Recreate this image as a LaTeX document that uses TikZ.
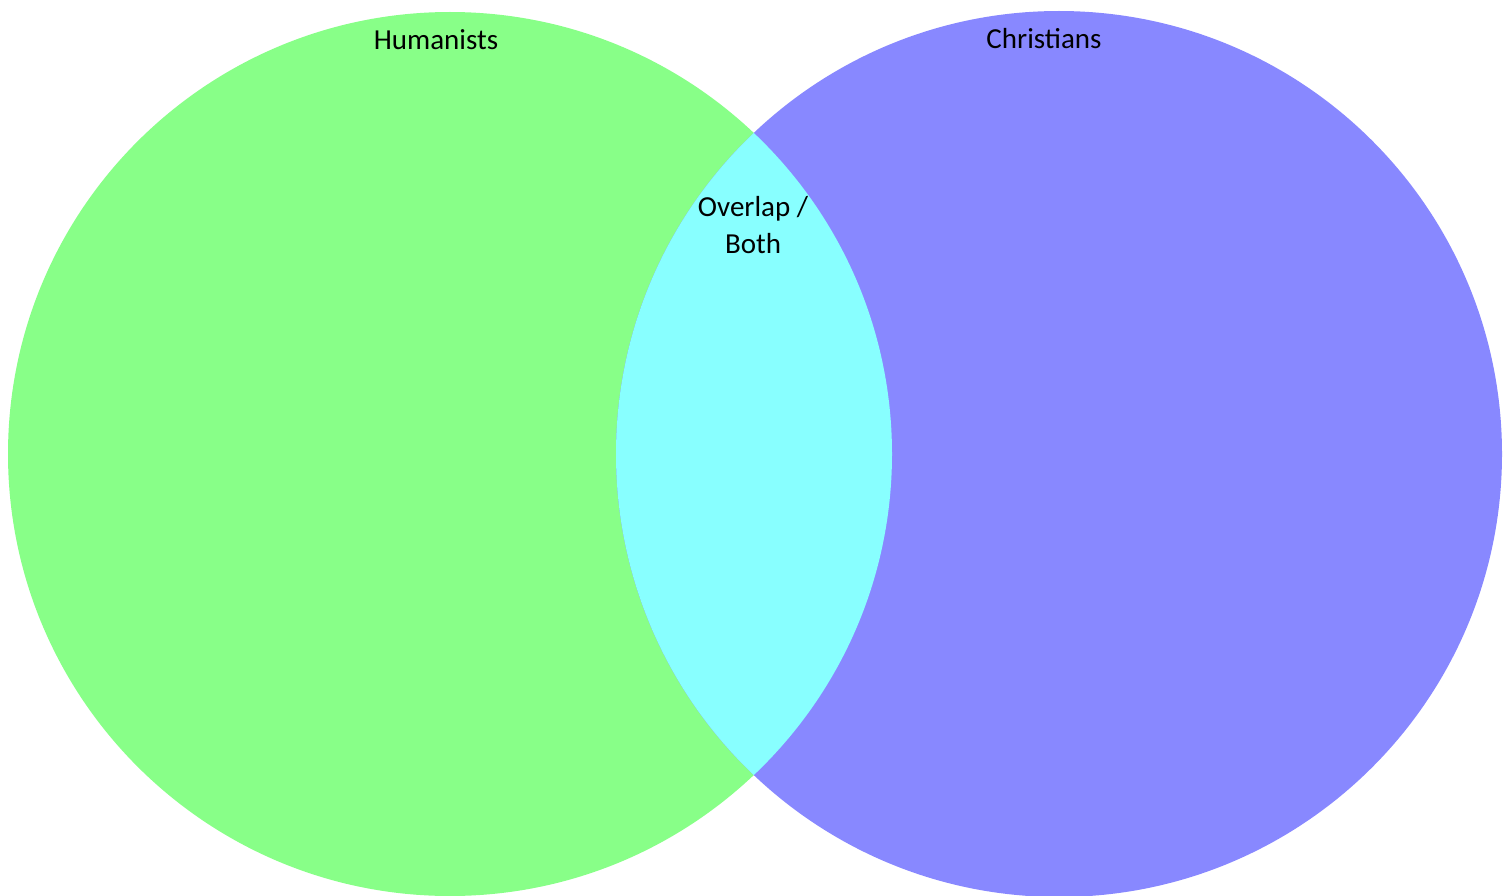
\documentclass[tikz,border=0pt]{standalone}
\usepackage{fontspec}
\setmainfont{Carlito}
\definecolor{hgreen}{HTML}{88FF88}
\definecolor{cblue}{HTML}{8888FF}
\definecolor{ocyan}{HTML}{88FFFF}
\begin{document}
\begin{tikzpicture}[x=1pt,y=-1pt,
  lbl/.style={font=\fontsize{29}{36}\selectfont, text=black, inner sep=0pt, anchor=base}]
\useasboundingbox (0,0) rectangle (1512,896);
\fill[white] (0,0) rectangle (1512,896);
\fill[hgreen] (450,454) circle[radius=442];
\fill[cblue] (1059,454) circle[radius=443];
\begin{scope}
  \clip (450,454) circle[radius=442];
  \fill[ocyan] (1059,454) circle[radius=443];
\end{scope}
\node[lbl] (hum) at (436,50) {Humanists};
\node[lbl] (chr) at (1044,49) {Christians};
\node[lbl] (ovl) at (753,217) {Overlap /};
\node[lbl] (both) at (753,253) {Both};
\end{tikzpicture}
\end{document}
